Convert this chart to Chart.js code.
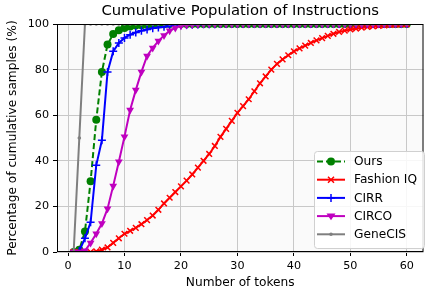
<!DOCTYPE html>
<html>
<head>
<meta charset="utf-8">
<script src="https://cdn.jsdelivr.net/npm/chart.js@4.4.1/dist/chart.umd.min.js"></script>
<style>
  html, body { margin: 0; padding: 0; background: #fff; }
  #wrap { width: 429px; height: 290px; }
</style>
</head>
<body>
<div id="wrap"><canvas id="chart" width="429" height="290"></canvas></div>
<script>
// ── Data ─────────────────────────────────────────────────────────────────────

const TOKENS = [1, 2, 3, 4, 5, 6, 7, 8, 9, 10, 11, 12, 13, 14, 15, 16, 17, 18, 19, 20,
  21, 22, 23, 24, 25, 26, 27, 28, 29, 30, 31, 32, 33, 34, 35, 36, 37, 38, 39, 40,
  41, 42, 43, 44, 45, 46, 47, 48, 49, 50, 51, 52, 53, 54, 55, 56, 57, 58, 59, 60];

const OURS = [0, 1, 9, 31, 58, 79, 91, 95.6, 97.3, 98.3, 98.9, 99.3, 99.5, 99.7, 99.8, 99.9, 99.9, 100, 100, 100,
  100, 100, 100, 100, 100, 100, 100, 100, 100, 100, 100, 100, 100, 100, 100, 100, 100, 100, 100, 100,
  100, 100, 100, 100, 100, 100, 100, 100, 100, 100, 100, 100, 100, 100, 100, 100, 100, 100, 100, 100];

const FASHION_IQ = [0, 0, 0, 0, 0.3, 1, 2, 4, 6, 8, 9.3, 10.6, 12.2, 14, 16, 18.5, 21.3, 23.8, 26.3, 28.8,
  31.3, 34, 37, 40, 43, 46.5, 50.5, 54, 57.5, 61, 64, 67, 70.5, 74, 77, 80, 82.5, 84.5, 86.3, 88,
  89.3, 90.5, 91.7, 92.8, 93.8, 94.8, 95.7, 96.5, 97.1, 97.6, 98, 98.4, 98.7, 99, 99.2, 99.4, 99.6, 99.7, 99.8, 99.9];

const CIRR = [0, 0.5, 6, 13, 38, 49, 79, 88, 91.7, 93.9, 95.3, 96.3, 97, 97.6, 98.1, 98.5, 98.8, 99.1, 99.3, 99.5,
  99.6, 99.7, 99.8, 99.85, 99.9, 99.9, 99.95, 100, 100, 100, 100, 100, 100, 100, 100, 100, 100, 100, 100, 100,
  100, 100, 100, 100, 100, 100, 100, 100, 100, 100, 100, 100, 100, 100, 100, 100, 100, 100, 100, 100];

const CIRCO = [0, 0, 0.5, 4, 8, 12.5, 19, 29, 39.6, 50.6, 62.3, 71, 79, 86, 89.5, 92.5, 95, 97, 98.3, 99.2,
  99.6, 99.8, 99.9, 100, 100, 100, 100, 100, 100, 100, 100, 100, 100, 100, 100, 100, 100, 100, 100, 100,
  100, 100, 100, 100, 100, 100, 100, 100, 100, 100, 100, 100, 100, 100, 100, 100, 100, 100, 100, 100];

const GENECIS = [0, 50, 100, 100, 100, 100, 100, 100, 100, 100, 100, 100, 100, 100, 100, 100, 100, 100, 100, 100,
  100, 100, 100, 100, 100, 100, 100, 100, 100, 100, 100, 100, 100, 100, 100, 100, 100, 100, 100, 100,
  100, 100, 100, 100, 100, 100, 100, 100, 100, 100, 100, 100, 100, 100, 100, 100, 100, 100, 100, 100];

const X_TICKS = [0, 10, 20, 30, 40, 50, 60];
const Y_TICKS = [0, 20, 40, 60, 80, 100];

const TITLE = 'Cumulative Population of Instructions';
const X_LABEL = 'Number of tokens';
const Y_LABEL = 'Percentage of cumulative samples (%)';

const FONT = "'DejaVu Sans', sans-serif";

// ── Series styles ────────────────────────────────────────────────────────────

const SERIES = [
  { label: 'Ours', data: OURS, color: '#008000', point: 'circle', radius: 4, dash: [6, 3], order: 4 },
  { label: 'Fashion IQ', data: FASHION_IQ, color: '#ff0000', point: 'crossRot', radius: 4, dash: [], order: 3 },
  { label: 'CIRR', data: CIRR, color: '#0000ff', point: 'cross', radius: 4, dash: [], order: 2 },
  { label: 'CIRCO', data: CIRCO, color: '#bf00bf', point: 'triangle', radius: 4.5, dash: [], order: 1, rotation: 180 },
  { label: 'GeneCIS', data: GENECIS, color: '#7f7f7f', point: 'circle', radius: 1.8, dash: [], order: 0 },
];

function toPoints(values) {
  return TOKENS.map((t, i) => ({ x: t, y: values[i] }));
}

// ── Overlay: background, frame, titles, legend ───────────────────────────────

function drawMarker(ctx, s, x, y) {
  ctx.save();
  ctx.fillStyle = s.color;
  ctx.strokeStyle = s.color;
  ctx.lineWidth = 1.5;
  ctx.setLineDash([]);
  const r = s.radius;
  ctx.beginPath();
  if (s.point === 'circle') {
    ctx.arc(x, y, r, 0, Math.PI * 2);
    ctx.fill();
  } else if (s.point === 'cross') {
    ctx.moveTo(x - r, y); ctx.lineTo(x + r, y);
    ctx.moveTo(x, y - r); ctx.lineTo(x, y + r);
    ctx.stroke();
  } else if (s.point === 'crossRot') {
    const d = r * 0.75;
    ctx.moveTo(x - d, y - d); ctx.lineTo(x + d, y + d);
    ctx.moveTo(x - d, y + d); ctx.lineTo(x + d, y - d);
    ctx.stroke();
  } else if (s.point === 'triangle') {
    ctx.moveTo(x - r, y - r * 0.6);
    ctx.lineTo(x + r, y - r * 0.6);
    ctx.lineTo(x, y + r * 0.9);
    ctx.closePath();
    ctx.fill();
  }
  ctx.restore();
}

const overlay = {
  id: 'overlay',
  beforeDraw(chart) {
    const { ctx, chartArea: a } = chart;
    ctx.save();
    ctx.fillStyle = '#fafafa';
    ctx.fillRect(a.left, a.top, a.right - a.left, a.bottom - a.top);
    ctx.restore();
  },
  afterDraw(chart) {
    const { ctx, chartArea: a } = chart;
    ctx.save();

    // frame
    ctx.strokeStyle = '#000';
    ctx.lineWidth = 1;
    ctx.strokeRect(a.left + 0.5, a.top + 0.5, a.right - a.left - 1, a.bottom - a.top - 1);

    // title + axis labels
    ctx.fillStyle = '#000';
    ctx.textAlign = 'center';
    ctx.textBaseline = 'middle';
    ctx.font = `14.8px ${FONT}`;
    ctx.fillText(TITLE, (a.left + a.right) / 2, 11.5);
    ctx.font = `12.2px ${FONT}`;
    ctx.fillText(X_LABEL, (a.left + a.right) / 2, 283);
    ctx.save();
    ctx.translate(13, (a.top + a.bottom) / 2);
    ctx.rotate(-Math.PI / 2);
    ctx.fillText(Y_LABEL, 0, 0);
    ctx.restore();

    // legend
    const box = { x: 314, y: 151, w: 110, h: 97 };
    ctx.fillStyle = 'rgba(255,255,255,0.85)';
    ctx.strokeStyle = '#d0d0d0';
    ctx.lineWidth = 1;
    ctx.beginPath();
    ctx.roundRect(box.x + 0.5, box.y + 0.5, box.w, box.h, 3);
    ctx.fill();
    ctx.stroke();

    SERIES.forEach((s, i) => {
      const y = 161.5 + i * 18.2;
      ctx.strokeStyle = s.color;
      ctx.lineWidth = 2;
      ctx.setLineDash(s.dash);
      ctx.beginPath();
      ctx.moveTo(317, y);
      ctx.lineTo(345, y);
      ctx.stroke();
      ctx.setLineDash([]);
      drawMarker(ctx, s, 331, y);
      ctx.fillStyle = '#000';
      ctx.textAlign = 'left';
      ctx.font = `12.2px ${FONT}`;
      ctx.fillText(s.label, 354, y + 0.5);
    });
    ctx.restore();
  }
};

// ── Chart ────────────────────────────────────────────────────────────────────

const datasets = SERIES.map(s => ({
  label: s.label,
  data: toPoints(s.data),
  borderColor: s.color,
  backgroundColor: s.color,
  borderWidth: 2,
  borderDash: s.dash,
  pointStyle: s.point,
  pointRadius: s.radius,
  pointRotation: s.rotation || 0,
  pointBorderWidth: s.point === 'cross' || s.point === 'crossRot' ? 1.5 : 0,
  pointBackgroundColor: s.color,
  pointBorderColor: s.color,
  tension: 0,
  clip: 0,
  order: s.order,
}));

new Chart(document.getElementById('chart'), {
  type: 'line',
  data: { datasets },
  plugins: [overlay],
  options: {
    responsive: false,
    animation: false,
    events: [],
    layout: { padding: { left: 0, right: 1, top: 24, bottom: 0 } },
    plugins: { legend: { display: false }, tooltip: { enabled: false }, title: { display: false } },
    scales: {
      x: {
        type: 'linear',
        min: -1.95,
        max: 62.95,
        afterBuildTicks: scale => { scale.ticks = X_TICKS.map(v => ({ value: v })); },
        afterFit: scale => { scale.height = 38; },
        grid: { color: '#c8c8c8', tickColor: '#000', tickLength: 4, lineWidth: 1 },
        border: { display: false },
        ticks: { color: '#000', font: { family: FONT, size: 11.2 }, padding: 3, maxRotation: 0 },
      },
      y: {
        type: 'linear',
        min: 0,
        max: 100,
        afterBuildTicks: scale => { scale.ticks = Y_TICKS.map(v => ({ value: v })); },
        afterFit: scale => { scale.width = 57; },
        grid: { color: '#c8c8c8', tickColor: '#000', tickLength: 4, lineWidth: 1 },
        border: { display: false },
        ticks: { color: '#000', font: { family: FONT, size: 11.2 }, padding: 4 },
      },
    },
  },
});
</script>
</body>
</html>
